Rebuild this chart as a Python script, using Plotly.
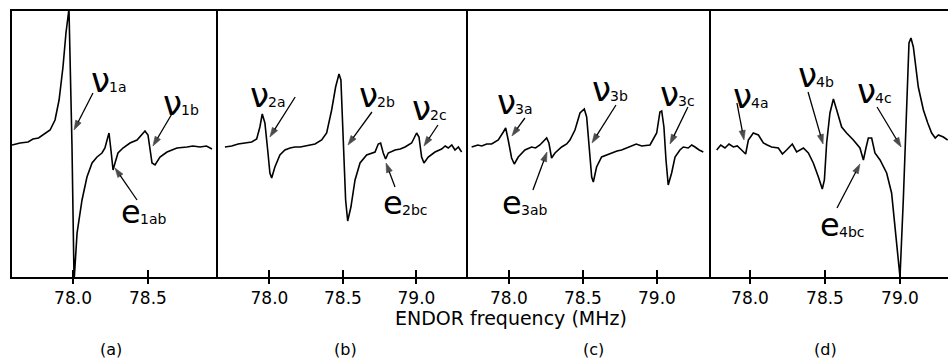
import plotly.graph_objects as go

# ---------------- data (ENDOR frequency in MHz, signal in arb. units) ----------------
freq_a = [77.593, 77.647, 77.700, 77.733, 77.770, 77.800, 77.847, 77.880, 77.907, 77.933, 77.953, 77.973,
          77.993, 78.007, 78.027, 78.060, 78.093, 78.127, 78.160, 78.193, 78.213, 78.227, 78.240, 78.253,
          78.267, 78.280, 78.300, 78.333, 78.380, 78.427, 78.460, 78.480, 78.500, 78.513, 78.527, 78.547,
          78.580, 78.627, 78.693, 78.760, 78.800, 78.847, 78.890, 78.927]
sig_a = [0.0, 0.2, 0.3, 0.6, 0.7, 1.0, 1.5, 2.5, 4.5, 7.8, 11.2, 13.6,
         0.0, -13.6, -8.8, -5.5, -3.2, -1.8, -1.2, -0.8, -0.3, 0.5, 1.2, -0.5,
         -2.5, -1.8, -0.8, -0.3, 0.2, 0.5, 1.0, 1.4, 1.0, -0.5, -1.8, -2.0,
         -1.2, -0.7, -0.3, -0.2, -0.1, -0.2, -0.1, -0.4]

freq_b = [77.697, 77.743, 77.787, 77.833, 77.879, 77.913, 77.935, 77.951, 77.969, 77.988, 78.003, 78.015,
          78.037, 78.071, 78.105, 78.140, 78.173, 78.210, 78.241, 78.275, 78.310, 78.355, 78.389, 78.423,
          78.450, 78.473, 78.486, 78.502, 78.518, 78.532, 78.554, 78.582, 78.616, 78.661, 78.718, 78.740,
          78.756, 78.774, 78.790, 78.808, 78.854, 78.890, 78.922, 78.967, 79.001, 79.017, 79.035, 79.051,
          79.080, 79.126, 79.150, 79.171, 79.195, 79.216, 79.240, 79.262, 79.285, 79.307]
sig_b = [-0.2, -0.1, 0.1, 0.2, 0.3, 0.6, 1.8, 3.1, 2.2, -0.5, -2.8, -3.3,
         -2.2, -1.0, -0.5, -0.3, -0.2, -0.2, -0.1, 0.0, 0.1, 0.5, 1.2, 3.5,
         5.8, 7.1, 6.5, 0.5, -5.5, -7.6, -6.2, -3.5, -1.8, -1.0, -0.7, 0.1,
         0.2, -0.8, -1.4, -0.8, -0.5, -0.4, -0.2, 0.2, 1.2, 0.8, -1.2, -1.8,
         -1.2, -0.7, -0.5, -0.4, -0.1, -0.3, 0.0, -0.5, -0.2, -0.7]

freq_c = [77.748, 77.790, 77.816, 77.850, 77.883, 77.928, 77.962, 77.978, 77.995, 78.018, 78.036, 78.063,
          78.108, 78.153, 78.180, 78.209, 78.255, 78.270, 78.288, 78.311, 78.356, 78.390, 78.412, 78.446,
          78.480, 78.509, 78.525, 78.541, 78.559, 78.570, 78.592, 78.626, 78.660, 78.694, 78.730, 78.761,
          78.818, 78.860, 78.897, 78.953, 78.998, 79.020, 79.032, 79.047, 79.061, 79.076, 79.099, 79.122,
          79.155, 79.178, 79.211, 79.235, 79.257, 79.285, 79.313]
sig_c = [-0.2, 0.0, -0.1, 0.1, 0.1, 0.5, 1.3, 1.7, 0.5, -1.3, -1.9, -1.2,
         -0.5, -0.2, -0.3, 0.0, 0.7, 0.2, -1.3, -0.8, -0.2, 0.1, 0.5, 1.5,
         3.2, 3.6, 2.8, -0.5, -3.2, -3.7, -2.2, -1.2, -1.0, -0.8, -0.6, -0.5,
         -0.2, 0.1, -0.1, 0.0, 1.2, 3.3, 3.4, 1.8, -1.5, -4.0, -2.8, -1.2,
         -0.5, -0.2, -0.3, 0.0, -0.2, -0.5, -0.7]

freq_d = [77.778, 77.805, 77.833, 77.860, 77.889, 77.915, 77.944, 77.971, 77.989, 78.022, 78.056, 78.089,
          78.115, 78.144, 78.189, 78.216, 78.244, 78.282, 78.311, 78.356, 78.389, 78.422, 78.456, 78.482,
          78.496, 78.511, 78.533, 78.556, 78.578, 78.611, 78.644, 78.689, 78.733, 78.756, 78.773, 78.789,
          78.811, 78.833, 78.867, 78.911, 78.944, 78.971, 79.000, 79.022, 79.044, 79.060, 79.073, 79.089,
          79.122, 79.156, 79.185, 79.211, 79.235, 79.256, 79.289, 79.318]
sig_d = [-0.5, 0.0, -0.3, 0.1, -0.2, -0.1, -0.5, -0.9, 0.5, 1.2, 1.0, 0.2,
         0.0, -0.2, -0.3, -0.9, -0.5, 0.1, -0.7, -0.3, -0.8, -1.8, -3.2, -4.4,
         -3.5, 0.2, 3.2, 4.6, 3.5, 1.8, 1.2, 0.5, -0.3, -1.5, -0.3, 0.7,
         0.7, -0.8, -1.5, -2.8, -4.8, -8.8, -13.2, -5.5, 4.5, 10.2, 10.7, 9.8,
         5.8, 3.5, 2.2, 1.2, 0.7, 1.0, 0.8, 0.5]

tick_vals_a = [78.0, 78.5]
tick_text_a = ["78.0", "78.5"]
tick_vals = [78.0, 78.5, 79.0]
tick_text = ["78.0", "78.5", "79.0"]

panel_names = ["(a)", "(b)", "(c)", "(d)"]
axis_title = "ENDOR frequency (MHz)"

# line labels: (symbol, subscript, label freq, label signal, arrow tail freq, tail signal, head freq, head signal)
labels_a = [("ν", "1a", 78.240, 6.5, 78.133, 5.2, 78.007, 1.5),
            ("ν", "1b", 78.720, 4.2, 78.667, 3.3, 78.533, -0.1),
            ("e", "1ab", 78.450, -6.7, 78.427, -5.5, 78.280, -2.3)]
labels_b = [("ν", "2a", 77.990, 5.0, 78.175, 4.8, 78.003, 0.8),
            ("ν", "2b", 78.730, 5.0, 78.697, 3.3, 78.534, 0.0),
            ("ν", "2c", 79.090, 3.7, 79.146, 2.0, 79.051, -0.1),
            ("e", "2bc", 78.900, -5.8, 78.854, -4.2, 78.793, -1.8)]
labels_c = [("ν", "3a", 78.040, 4.3, 78.108, 2.7, 78.020, 0.9),
            ("ν", "3b", 78.680, 5.6, 78.723, 4.0, 78.561, 0.2),
            ("ν", "3c", 79.140, 5.1, 79.209, 3.8, 79.088, 0.1),
            ("e", "3ab", 78.080, -5.8, 78.162, -4.5, 78.257, -0.7)]
labels_d = [("ν", "4a", 78.005, 4.9, 77.913, 4.2, 77.960, 0.5),
            ("ν", "4b", 78.440, 7.0, 78.387, 5.3, 78.487, 0.1),
            ("ν", "4c", 78.833, 5.4, 78.847, 3.8, 79.007, -0.2),
            ("e", "4bc", 78.590, -8.0, 78.580, -6.3, 78.733, -1.9)]

# ---------------- layout config ----------------
W, H = 948, 360
FONT = "DejaVu Sans"
y_dom = [83 / H, 349 / H]
y_rng = [-13.2, 13.4]
panels = [
    dict(f=freq_a, s=sig_a, lab=labels_a, tv=tick_vals_a, tt=tick_text_a,
         dom=[12 / W, 218 / W], rng=[77.593, 78.967], px=111),
    dict(f=freq_b, s=sig_b, lab=labels_b, tv=tick_vals, tt=tick_text,
         dom=[218 / W, 467.5 / W], rng=[77.650, 79.347], px=345),
    dict(f=freq_c, s=sig_c, lab=labels_c, tv=tick_vals, tt=tick_text,
         dom=[467.5 / W, 711 / W], rng=[77.720, 79.365], px=593),
    dict(f=freq_d, s=sig_d, lab=labels_d, tv=tick_vals, tt=tick_text,
         dom=[711 / W, 1.0], rng=[77.740, 79.320], px=825),
]

fig = go.Figure()
annotations = []
layout = dict(width=W, height=H, autosize=False,
              margin=dict(l=0, r=0, t=0, b=0),
              paper_bgcolor="white", plot_bgcolor="white",
              showlegend=False, font=dict(family=FONT, color="black"))

for i, p in enumerate(panels):
    k = i + 1
    xa = "x" if k == 1 else f"x{k}"
    ya = "y" if k == 1 else f"y{k}"
    fig.add_trace(go.Scatter(x=p["f"], y=p["s"], mode="lines", xaxis=xa, yaxis=ya,
                             line=dict(color="black", width=1.6), cliponaxis=True,
                             hoverinfo="skip"))
    layout["xaxis" if k == 1 else f"xaxis{k}"] = dict(
        domain=p["dom"], range=p["rng"], anchor=ya, showgrid=False, zeroline=False,
        showline=True, linecolor="black", linewidth=2, mirror=True,
        ticks="outside", ticklen=5, tickwidth=1.5, tickcolor="black",
        tickvals=p["tv"], ticktext=p["tt"],
        tickfont=dict(family=FONT, size=17, color="black"))
    layout["yaxis" if k == 1 else f"yaxis{k}"] = dict(
        domain=y_dom, range=y_rng, anchor=xa, showgrid=False, zeroline=False,
        showline=True, linecolor="black", linewidth=2,
        mirror=False, showticklabels=False, ticks="")
    # inside tick half (ticks cross the axis line)
    kk = k + 4
    layout[f"xaxis{kk}"] = dict(
        overlaying=xa, range=p["rng"], anchor=ya, showgrid=False, zeroline=False,
        showline=False, ticks="inside", ticklen=7, tickwidth=1.5, tickcolor="black",
        tickvals=p["tv"], showticklabels=False)
    fig.add_trace(go.Scatter(x=[p["rng"][0]], y=[y_rng[0] - 100], mode="markers",
                             xaxis=f"x{kk}", yaxis=ya, showlegend=False,
                             hoverinfo="skip", marker=dict(opacity=0)))

    for (sym, sub, lx, ly, tx, ty, hx, hy) in p["lab"]:
        big = 34 if sym == "ν" else 32
        # main symbol (ν or e), ending at the label point
        annotations.append(dict(
            x=lx, y=ly, xref=xa, yref=ya, showarrow=False, text=sym,
            font=dict(family=FONT, size=big, color="black"),
            xanchor="right", yanchor="middle", xshift=3))
        # subscript, starting at the label point, lowered
        annotations.append(dict(
            x=lx, y=ly, xref=xa, yref=ya, showarrow=False, text=sub,
            font=dict(family=FONT, size=14, color="black"),
            xanchor="left", yanchor="middle", yshift=-7, xshift=-2))
        # arrow: thin line ending in an arrowhead marker (tip at the head point)
        fig.add_trace(go.Scatter(
            x=[tx, hx], y=[ty, hy], mode="lines+markers", xaxis=xa, yaxis=ya,
            line=dict(color="black", width=1.3),
            marker=dict(symbol=["circle", "arrow"], size=[0, 10], color="black",
                        angleref="previous", line=dict(width=0.6, color="black")),
            hoverinfo="skip", showlegend=False))

    annotations.append(dict(x=p["px"] / W, y=1 - 349 / H, xref="paper", yref="paper",
                            text=panel_names[i], showarrow=False,
                            font=dict(family=FONT, size=16, color="black"),
                            xanchor="center", yanchor="middle"))

annotations.append(dict(x=511 / W, y=1 - 318 / H, xref="paper", yref="paper",
                        text=axis_title, showarrow=False,
                        font=dict(family=FONT, size=19, color="black"),
                        xanchor="center", yanchor="middle"))

layout["annotations"] = annotations
fig.update_layout(**layout)
fig.write_html("out.html")
